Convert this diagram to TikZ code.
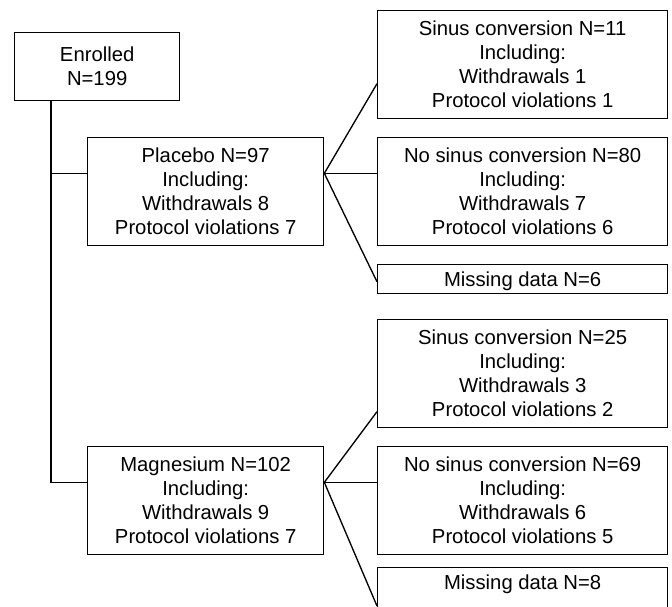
\documentclass[tikz,border=0pt]{standalone}
\usepackage{fontspec}
\setmainfont{Liberation Sans}
\usetikzlibrary{positioning}

\begin{document}
\begin{tikzpicture}[
    x=0.75pt, y=-0.75pt,
    every node/.style={font=\fontsize{15.2}{18}\selectfont},
    box/.style={
        draw,
        rectangle,
        line width=1pt,
        align=center,
        inner sep=2pt,
        anchor=north west,
    },
    missing/.style={
        minimum width=\wOut,
        inner ysep=0pt,
        text height=16.3pt,
        text depth=5.5pt,
    },
    link/.style={line width=1pt},
]

% Box sizes
\def\wArm{177pt}
\def\hArm{81pt}
\def\wOut{217.5pt}
\def\hOut{81pt}

% Height of the joints above the arm centres
\def\hook{13.75pt}

\useasboundingbox (0,0) rectangle (672,607);

\node[box, minimum width=123.75pt, minimum height=51pt] (enr) at (14,32) {Enrolled\\N=199};

% Treatment arms
\node[box, minimum width=\wArm, minimum height=\hArm] (plc) at (87,137)
    {Placebo N=97\\Including:\\Withdrawals 8\\Protocol violations 7};
\node[box, minimum width=\wArm, minimum height=\hArm] (mag) at (87,446)
    {Magnesium N=102\\Including:\\Withdrawals 9\\Protocol violations 7};

% Outcomes - placebo
\node[box, minimum width=\wOut, minimum height=\hOut] (plcSin) at (377,10)
    {Sinus conversion N=11\\Including:\\Withdrawals 1\\Protocol violations 1};
\node[box, minimum width=\wOut, minimum height=\hOut] (plcNo) at (377,137)
    {No sinus conversion N=80\\Including:\\Withdrawals 7\\Protocol violations 6};
\node[box, missing] (plcMiss) at (377,264) {Missing data N=6};

% Outcomes - magnesium
\node[box, minimum width=\wOut, minimum height=\hOut] (magSin) at (377,319)
    {Sinus conversion N=25\\Including:\\Withdrawals 3\\Protocol violations 2};
\node[box, minimum width=\wOut, minimum height=\hOut] (magNo) at (377,446)
    {No sinus conversion N=69\\Including:\\Withdrawals 6\\Protocol violations 5};
\node[box, missing, text depth=33pt] (magMiss) at (377,567) {Missing data N=8};

% Trunk from enrolment to the arms
\coordinate (trunk) at ([xshift=27.75pt]enr.south west);
\draw[link] (trunk) |- ([yshift=\hook]plc.west);
\draw[link] (trunk) |- ([yshift=\hook]mag.west);

% Fans to the outcomes
\coordinate (plcFan) at ([yshift=\hook]plc.east);
\draw[link] (plcFan) -- ([yshift=-14.25pt]plcSin.west);
\draw[link] (plcFan) -- (plcFan -| plcNo.west);
\draw[link] (plcFan) -- ([yshift=-1.9pt]plcMiss.west);

\coordinate (magFan) at ([yshift=\hook]mag.east);
\draw[link] (magFan) -- ([yshift=-28.5pt]magSin.west);
\draw[link] (magFan) -- (magFan -| magNo.west);
\draw[link] (magFan) -- ([yshift=-29.25pt]magMiss.north west);

\end{tikzpicture}
\end{document}
